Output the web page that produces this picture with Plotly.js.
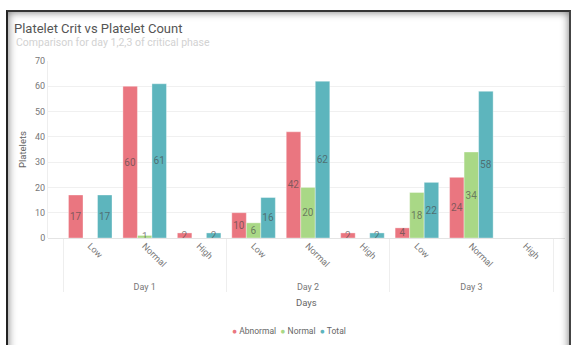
<!DOCTYPE html>
<html><head><meta charset="utf-8">
<script src="https://cdn.plot.ly/plotly-3.0.1.min.js"></script>
<style>
body{margin:0;width:572px;height:345px;overflow:hidden;background:#fff;}
#chart{position:absolute;left:0;top:0;width:572px;height:345px;}
#frame{position:absolute;left:6px;top:10px;width:561px;height:345px;border-left:2px solid #222;border-top:2px solid #333;border-right:2px solid #444;box-shadow:inset 0 0 9px rgba(0,0,0,0.55);pointer-events:none;}
</style></head>
<body>
<div id="chart"></div>
<div id="frame"></div>
<script>
const days = ["Day 1","Day 1","Day 1","Day 2","Day 2","Day 2","Day 3","Day 3","Day 3"];
const levels = ["Low","Normal","High","Low","Normal","High","Low","Normal","High"];
const abnormal = [17, 60, 2, 10, 42, 2, 4, 24, null];
const normal = [null, 1, null, 6, 20, null, 18, 34, null];
const total = [17, 61, 2, 16, 62, 2, 22, 58, null];
const seriesNames = ["Abnormal","Normal","Total"];
const colors = ["#ea7680","#a9d886","#5db5bd"];

const series = [abnormal, normal, total];
const traces = series.map((vals, i) => ({
  type: 'bar',
  name: seriesNames[i],
  x: [days, levels],
  y: vals,
  marker: {color: colors[i], line: {color: 'rgba(255,255,255,0.35)', width: 1}},
  text: vals.map(v => v === null ? '' : String(v)),
  textposition: 'inside',
  insidetextanchor: 'middle',
  textangle: 0,
  constraintext: 'none',
  textfont: {family: 'Roboto', size: 10, color: 'rgba(70,70,70,0.65)'},
  showlegend: false,
  hoverinfo: 'skip'
}));

const legendText = seriesNames.map((n, i) =>
  '<span style="color:' + colors[i] + '">●</span> ' + n).join('  ');

const layout = {
  width: 572, height: 345,
  margin: {l: 48, r: 7, t: 61, b: 107},
  paper_bgcolor: '#fff', plot_bgcolor: '#fff',
  font: {family: 'Roboto', color: '#777'},
  title: {
    text: 'Platelet Crit vs Platelet Count',
    font: {family: 'Roboto', size: 13, color: '#555'},
    x: 14/572, xanchor: 'left', xref: 'container',
    y: 1 - 24/345, yanchor: 'top', yref: 'container'
  },
  showlegend: false,
  barmode: 'group', bargap: 0.2, bargroupgap: 0,
  uniformtext: {mode: 'show', minsize: 10},
  xaxis: {
    type: 'multicategory',
    automargin: false,
    range: [-0.776, 8.72],
    tickangle: 45,
    tickfont: {size: 9, color: '#777'},
    showdividers: true, dividercolor: '#eee', dividerwidth: 1,
    showgrid: false, zeroline: false, showline: false, ticks: ''
  },
  yaxis: {
    automargin: false,
    range: [0, 70], dtick: 10,
    tickfont: {size: 9, color: '#777'},
    gridcolor: '#f0f0f0', zeroline: true, zerolinecolor: '#e4e4e4',
    showline: true, linecolor: '#eee',
    title: {text: 'Platelets', font: {size: 9.5, color: '#666'}, standoff: 6}
  },
  annotations: [
    {text: 'Comparison for day 1,2,3 of critical phase', xref: 'paper', yref: 'paper',
     x: (14-48)/517, xanchor: 'left', y: (238-42)/177, yanchor: 'middle',
     showarrow: false, font: {size: 10.5, color: '#d2d2d2'}},
    {text: 'Days', xref: 'paper', yref: 'paper', x: (306-48)/517, y: (238-302)/177,
     yanchor: 'middle', showarrow: false, font: {size: 9.5, color: '#666'}},
    {text: legendText, xref: 'paper', yref: 'paper', x: (289-48)/517, y: (238-331)/177,
     yanchor: 'middle', showarrow: false, font: {size: 8.5, color: '#666'}}
  ]
};
Plotly.newPlot('chart', traces, layout, {displayModeBar: false, staticPlot: true});
</script>
</body></html>
